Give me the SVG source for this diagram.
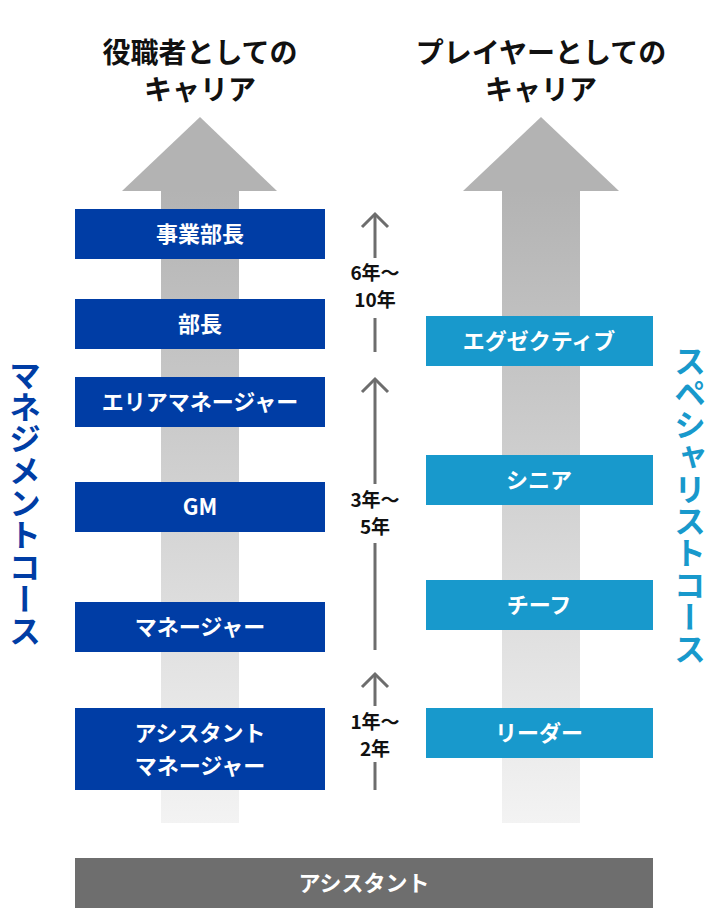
<svg xmlns="http://www.w3.org/2000/svg" width="716" height="920" viewBox="0 0 716 920">
<defs>
<linearGradient id="shaft" x1="0" y1="0" x2="0" y2="1">
<stop offset="0" stop-color="#b3b3b3"/>
<stop offset="1" stop-color="#f3f3f3"/>
</linearGradient>
</defs>
<style>
text{font-family:"Noto Sans CJK JP","Noto Sans",sans-serif;font-weight:bold;}
.title{font-size:28px;fill:#111;text-anchor:middle;}
.mgr rect{fill:#003da5;}
.sp rect{fill:#1899cc;}
.box text{fill:#fff;font-size:22px;text-anchor:middle;}
.yr{font-size:19px;fill:#111;text-anchor:middle;}
.conn line{stroke:#6d6d6d;stroke-width:3;}
.conn polyline{stroke:#6d6d6d;stroke-width:3;fill:none;}
.vert{writing-mode:vertical-rl;font-size:32px;text-anchor:middle;}
</style>
<g id="titles">
<text class="title" x="200" y="63">役職者としての</text>
<text class="title" x="200" y="100">キャリア</text>
<text class="title" x="541" y="63">プレイヤーとしての</text>
<text class="title" x="541" y="100">キャリア</text>
</g>
<g id="big-arrows">
<rect x="161" y="190" width="78" height="633" fill="url(#shaft)"/>
<polygon points="200,117 277,191 122,191" fill="#b3b3b3"/>
<rect x="502" y="190" width="78" height="633" fill="url(#shaft)"/>
<polygon points="541,117 619,191 463,191" fill="#b3b3b3"/>
</g>
<g id="course-labels">
<text class="vert" x="25" y="503" fill="#003da5">マネジメントコース</text>
<text class="vert" x="690" y="505" fill="#1899cc">スペシャリストコース</text>
</g>
<g id="n-jigyobucho" class="box mgr"><rect x="75" y="209" width="250" height="50"/><text x="200" y="242">事業部長</text></g>
<g id="n-bucho" class="box mgr"><rect x="75" y="299" width="250" height="50"/><text x="200" y="332">部長</text></g>
<g id="n-area" class="box mgr"><rect x="75" y="377" width="250" height="50"/><text x="200" y="410">エリアマネージャー</text></g>
<g id="n-gm" class="box mgr"><rect x="75" y="482" width="250" height="50"/><text x="200" y="515">GM</text></g>
<g id="n-manager" class="box mgr"><rect x="75" y="602" width="250" height="50"/><text x="200" y="635">マネージャー</text></g>
<g id="n-asst-mgr" class="box mgr"><rect x="75" y="708" width="250" height="82"/><text x="200" y="741">アシスタント</text><text x="200" y="774">マネージャー</text></g>
<g id="n-exec" class="box sp"><rect x="426" y="316" width="227" height="50"/><text x="539" y="349">エグゼクティブ</text></g>
<g id="n-senior" class="box sp"><rect x="426" y="455" width="227" height="50"/><text x="539" y="488">シニア</text></g>
<g id="n-chief" class="box sp"><rect x="426" y="580" width="227" height="50"/><text x="539" y="613">チーフ</text></g>
<g id="n-leader" class="box sp"><rect x="426" y="708" width="227" height="50"/><text x="539" y="741">リーダー</text></g>
<g id="n-assistant" class="box"><rect x="75" y="858" width="578" height="50" fill="#6e6e6e"/><text x="364" y="891">アシスタント</text></g>
<g id="connectors" class="conn">
<line x1="375" y1="214" x2="375" y2="258"/>
<line x1="375" y1="318" x2="375" y2="352"/>
<polyline points="362,227 375,214 388,227"/>
<line x1="375" y1="379" x2="375" y2="484"/>
<line x1="375" y1="543" x2="375" y2="650"/>
<polyline points="362,392 375,379 388,392"/>
<line x1="375" y1="674" x2="375" y2="706"/>
<line x1="375" y1="762" x2="375" y2="790"/>
<polyline points="362,687 375,674 388,687"/>
</g>
<g id="labels">
<text class="yr" x="375" y="280">6年～</text>
<text class="yr" x="375" y="307">10年</text>
<text class="yr" x="375" y="507">3年～</text>
<text class="yr" x="375" y="534">5年</text>
<text class="yr" x="375" y="729">1年～</text>
<text class="yr" x="375" y="756">2年</text>
</g>
</svg>
